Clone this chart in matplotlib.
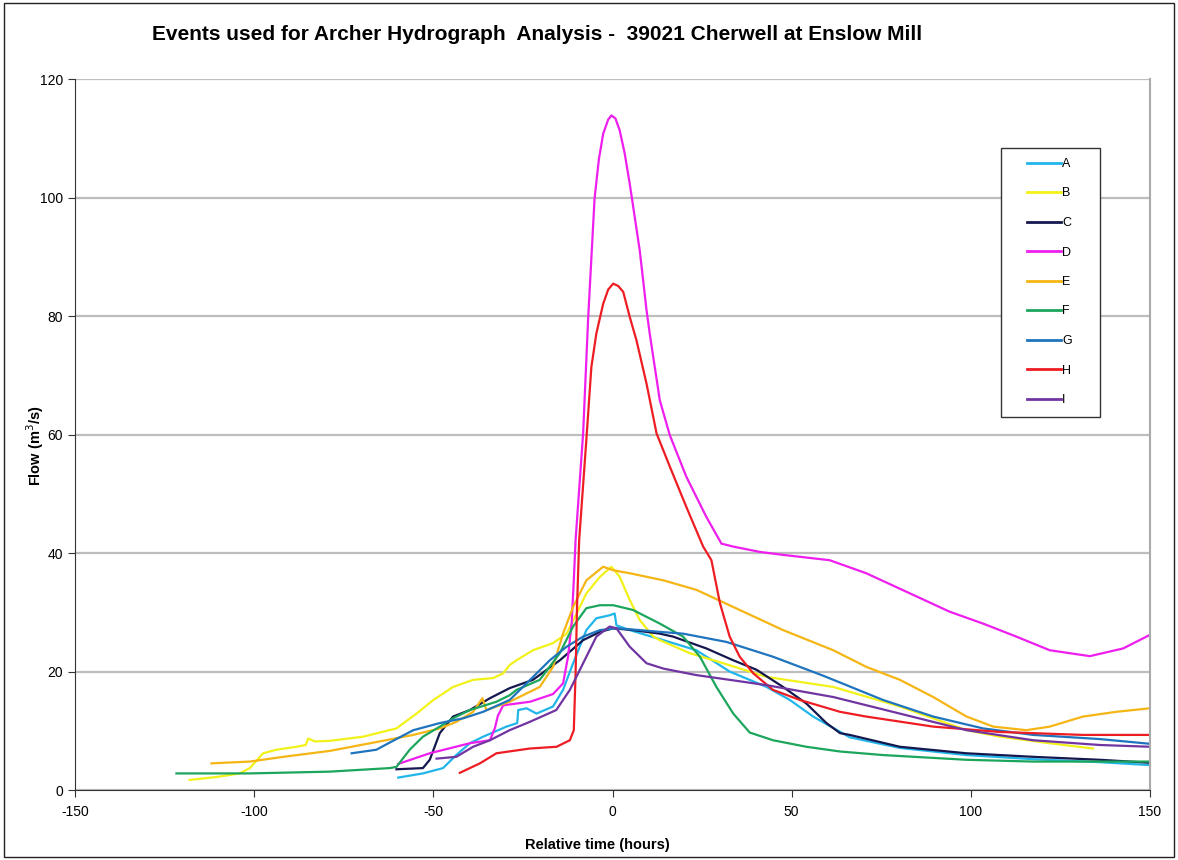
import numpy as np
import matplotlib.pyplot as plt
from matplotlib.patches import Rectangle

plt.rcParams['font.family'] = ['Liberation Sans', 'DejaVu Sans']
plt.rcParams['axes.unicode_minus'] = False

# event hydrographs: relative time (h) and flow (m3/s)
t_a = [-59.8, -52.9, -47.3, -43.6, -39.8, -36.1, -29.6, -26.6, -26.3, -24.0, -21.2, -16.6, -13.8, -11.0,
       -7.3, -4.5, -0.8, 0.6, 1.1, 4.8, 14.2, 23.4, 32.7, 43.0, 49.5, 56.0, 66.2, 80.2, 98.8, 117.4, 136.0, 150.0]
q_a = [2.1, 2.8, 3.7, 5.9, 7.9, 9.0, 10.7, 11.3, 13.5, 13.8, 12.9, 14.1, 16.9, 21.4,
       27.0, 29.0, 29.5, 29.8, 27.8, 27.0, 25.3, 23.6, 20.0, 17.4, 15.2, 12.4, 8.9, 7.1, 5.9, 5.2, 4.7, 4.2]

t_b = [-118.0, -110.4, -104.0, -101.2, -97.5, -93.8, -88.2, -85.6, -84.9, -83.1, -78.9, -69.6, -60.3, -54.7,
       -50.0, -44.5, -38.9, -33.3, -30.5, -28.7, -26.8, -22.2, -16.6, -12.8, -10.0, -7.3, -3.5, -0.3, 2.0,
       4.8, 7.6, 11.4, 13.2, 21.6, 30.9, 43.0, 61.6, 80.2, 98.8, 108.1, 122.0, 134.1]
q_b = [1.7, 2.2, 2.8, 3.7, 6.2, 6.8, 7.3, 7.6, 8.7, 8.2, 8.3, 9.0, 10.4, 12.9,
       15.2, 17.4, 18.6, 18.9, 19.7, 21.1, 21.9, 23.6, 24.8, 26.4, 29.8, 33.2, 36.0, 37.7, 36.0,
       32.1, 28.7, 25.9, 25.3, 23.1, 21.4, 19.1, 17.4, 14.1, 10.1, 9.0, 7.9, 7.0]

t_c = [-60.3, -52.9, -51.0, -48.2, -44.5, -39.8, -34.2, -28.7, -22.2, -14.7, -8.2, -3.5, 0.2, 5.7,
       13.2, 16.9, 26.2, 33.7, 40.2, 47.6, 54.1, 59.7, 63.5, 66.2, 80.2, 98.8, 117.4, 136.0, 150.0]
q_c = [3.5, 3.7, 5.1, 9.6, 12.4, 13.5, 15.5, 17.2, 18.6, 21.9, 25.3, 26.7, 27.3, 27.0,
       26.4, 25.9, 23.9, 21.9, 20.3, 17.4, 14.6, 11.3, 9.6, 9.3, 7.3, 6.2, 5.6, 5.1, 4.6]

t_d = [-59.8, -51.0, -39.8, -34.2, -32.8, -32.0, -30.5, -23.0, -16.6, -13.8, -12.4, -11.4, -10.8, -10.3,
       -8.2, -6.8, -5.0, -3.8, -2.6, -1.2, -0.3, 0.8, 2.0, 3.4, 4.8, 7.6, 9.5, 10.4, 13.2, 16.0, 20.6,
       26.2, 30.4, 33.7, 41.1, 47.6, 60.6, 70.8, 83.0, 94.1, 103.4, 112.7, 122.0, 133.2, 142.5, 150.0]
q_d = [4.4, 6.2, 7.9, 8.4, 10.5, 12.5, 14.3, 14.9, 16.2, 18.0, 22.5, 28.2, 35.4, 42.2,
       60.2, 79.6, 99.9, 106.5, 110.8, 113.2, 113.9, 113.4, 111.4, 107.5, 102.4, 91.1, 81.0, 77.0, 65.8, 59.9, 52.9,
       46.1, 41.6, 41.1, 40.2, 39.7, 38.8, 36.6, 33.2, 30.1, 28.1, 25.9, 23.6, 22.6, 23.9, 26.2]

t_e = [-111.9, -101.2, -91.9, -78.9, -65.0, -55.6, -48.2, -43.6, -38.9, -36.3, -35.2, -28.7, -20.3, -16.6,
       -13.8, -11.0, -7.3, -2.6, 0.2, 4.8, 14.2, 23.4, 33.7, 47.6, 61.6, 70.8, 80.2, 89.5, 98.8, 106.3,
       115.5, 122.0, 131.3, 140.6, 150.0]
q_e = [4.5, 4.8, 5.6, 6.6, 8.2, 9.3, 10.4, 11.5, 13.2, 15.5, 13.5, 14.9, 17.4, 20.8,
       26.4, 30.9, 35.4, 37.7, 37.1, 36.6, 35.4, 33.8, 30.9, 27.0, 23.6, 20.8, 18.6, 15.7, 12.4, 10.7,
       10.1, 10.7, 12.4, 13.2, 13.8]

t_f = [-121.7, -101.2, -78.9, -62.2, -60.3, -56.6, -52.9, -48.2, -44.5, -39.8, -32.4, -28.7, -26.8, -20.3,
       -14.7, -11.0, -7.3, -3.5, 0.2, 5.7, 13.2, 19.7, 24.4, 29.0, 33.7, 38.3, 44.8, 54.1, 63.5, 75.5,
       98.8, 117.4, 150.0]
q_f = [2.8, 2.8, 3.1, 3.7, 3.9, 6.8, 9.0, 10.7, 12.1, 13.5, 14.9, 16.0, 16.9, 18.6,
       23.1, 27.6, 30.7, 31.2, 31.2, 30.4, 28.1, 25.9, 22.5, 17.4, 12.9, 9.7, 8.4, 7.3, 6.5, 5.9,
       5.1, 4.8, 4.8]

t_g = [-72.8, -65.9, -62.2, -55.6, -48.2, -41.7, -36.1, -28.7, -24.0, -17.5, -12.8, -8.2, -3.5, 1.1,
       7.6, 13.2, 19.7, 31.8, 44.8, 58.8, 75.5, 89.5, 103.4, 117.4, 136.0, 150.0]
q_g = [6.2, 6.8, 8.0, 10.1, 11.3, 12.1, 13.2, 15.2, 18.0, 21.9, 24.2, 25.9, 27.0, 27.3,
       27.0, 26.7, 26.4, 25.0, 22.5, 19.3, 15.2, 12.4, 10.4, 9.3, 8.6, 7.8]

t_h = [-42.6, -37.0, -32.4, -23.1, -15.6, -11.9, -10.8, -10.3, -9.9, -9.3, -7.3, -5.9, -4.5, -2.6,
       -1.2, 0.2, 1.6, 3.0, 4.8, 6.7, 9.5, 12.3, 16.0, 20.6, 25.3, 27.6, 30.0, 32.7, 35.5, 39.3, 44.8, 52.3,
       63.5, 70.8, 89.5, 108.1, 131.3, 150.0]
q_h = [2.9, 4.5, 6.2, 7.0, 7.3, 8.4, 10.1, 19.7, 30.9, 42.2, 59.1, 71.4, 77.1, 82.1,
       84.5, 85.5, 85.1, 84.1, 79.9, 75.9, 68.6, 60.2, 54.6, 47.8, 41.1, 38.8, 31.5, 25.9, 22.5, 19.7, 16.9, 15.2,
       13.2, 12.4, 10.7, 9.8, 9.3, 9.3]

t_i = [-49.1, -43.6, -38.9, -34.2, -28.7, -23.1, -15.7, -11.9, -8.2, -4.5, -0.8, 1.1, 4.8, 9.5,
       14.2, 23.4, 32.7, 43.0, 61.6, 80.2, 98.8, 117.4, 136.0, 150.0]
q_i = [5.3, 5.6, 7.3, 8.4, 10.1, 11.5, 13.5, 16.9, 21.4, 25.9, 27.6, 27.3, 24.2, 21.4,
       20.5, 19.4, 18.6, 17.7, 15.7, 12.9, 10.1, 8.4, 7.6, 7.3]

names = ["A", "B", "C", "D", "E", "F", "G", "H", "I"]
times = [t_a, t_b, t_c, t_d, t_e, t_f, t_g, t_h, t_i]
flows = [q_a, q_b, q_c, q_d, q_e, q_f, q_g, q_h, q_i]
colors = ["#21B6EA", "#F2F21A", "#15184F", "#EE1FEE", "#F5B514",
          "#1CA65C", "#1F74BD", "#EE1D23", "#7135A2"]

W, H = 1178, 860
fig = plt.figure(figsize=(W / 100, H / 100), dpi=100)
ax = fig.add_axes([75 / W, 1 - 790 / H, 1075 / W, 710.7 / H])

for name, t, q, c in zip(names, times, flows, colors):
    ax.plot(t, q, color=c, lw=1.6, label=name, solid_joinstyle='round')

ax.set_xlim(-150, 150)
ax.set_ylim(0, 120)
ax.set_xticks(np.arange(-150, 151, 50))
ax.set_yticks(np.arange(0, 121, 20))
ax.yaxis.grid(True, color="#BDBDBD", lw=1.6)
ax.set_axisbelow(True)
ax.tick_params(axis='both', labelsize=10, length=5, width=0.8, color="#333333")
ax.tick_params(axis='x', direction='out', pad=6)
ax.spines['top'].set_visible(False)
ax.spines['right'].set_color("#AAAAAA")
ax.spines['right'].set_linewidth(1.5)
ax.spines['left'].set_color("#333333")
ax.spines['bottom'].set_color("#333333")

ax.set_xlabel("Relative time (hours)", fontsize=10.5, fontweight='bold')
ax.set_ylabel("Flow (m$^3$/s)", fontsize=10.5, fontweight='bold')
ax.xaxis.set_label_coords((597 - 75) / 1075, -(838 - 790) / 710.7)
ax.yaxis.set_label_coords(-(75 - 46) / 1075, 0.485)

fig.text(152 / W, 1 - 35 / H, "Events used for Archer Hydrograph  Analysis -  39021 Cherwell at Enslow Mill",
         fontsize=15, fontweight='bold', ha='left', va='center')

# legend entries, with a separate box drawn around them
leg = ax.legend(loc='upper left', bbox_to_anchor=(1027 / W, 1 - 158 / H),
                bbox_transform=fig.transFigure, fontsize=9, frameon=False,
                handlelength=2.7, handletextpad=0.1, labelspacing=1.4, borderpad=0,
                borderaxespad=0)
leg.set_zorder(6)
for h in leg.get_lines():
    h.set_linewidth(2)
ax.add_patch(Rectangle((1001 / W, 1 - 417 / H), 99 / W, 269 / H, transform=fig.transFigure,
                       clip_on=False, facecolor='white', edgecolor="#333333", lw=1.0, zorder=5))

# outer chart border
fig.patches.append(Rectangle((0.003, 0.003), 0.994, 0.994, transform=fig.transFigure,
                             fill=False, edgecolor="#222222", lw=1.0))

fig.savefig("out.png", dpi=100)
